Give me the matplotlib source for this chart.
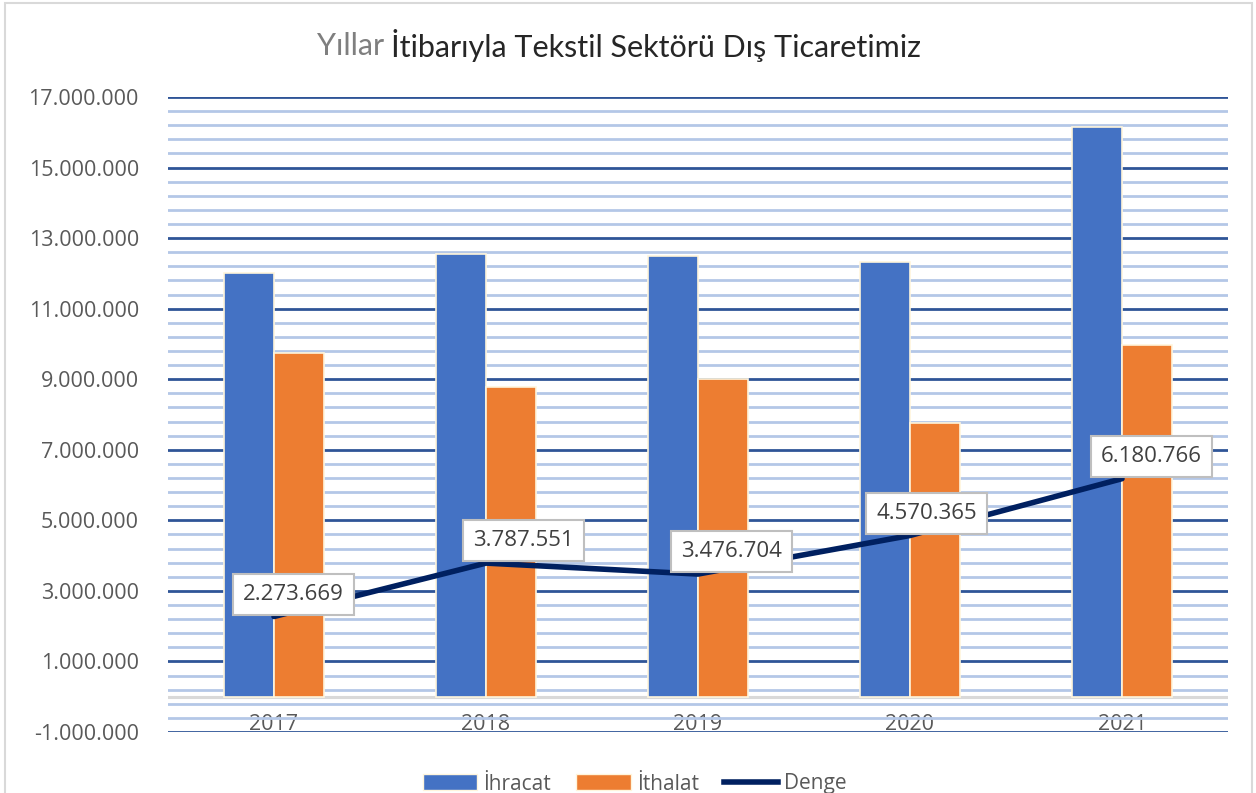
import matplotlib
matplotlib.use("Agg")
import matplotlib.pyplot as plt
import numpy as np
from matplotlib.patches import Rectangle, Patch
from matplotlib.lines import Line2D

# veriler
years = ["2017", "2018", "2019", "2020", "2021"]
ihracat = [12020000, 12560000, 12500000, 12330000, 16150000]
ithalat = [9750000, 8770000, 9020000, 7760000, 9970000]
denge = [2273669, 3787551, 3476704, 4570365, 6180766]
denge_labels = ["2.273.669", "3.787.551", "3.476.704", "4.570.365", "6.180.766"]
y_major = list(range(-1000000, 17000001, 2000000))
y_major_labels = ["-1.000.000", "1.000.000", "3.000.000", "5.000.000", "7.000.000",
                  "9.000.000", "11.000.000", "13.000.000", "15.000.000", "17.000.000"]

# etiket kaydırma (punto)
label_dx = [14, 27, 24, 12, 21]

plt.rcParams['font.family'] = ['Open Sans', 'DejaVu Sans']

fig = plt.figure(figsize=(12.56, 7.93), dpi=100)
ax = fig.add_axes([168 / 1256, 1 - 732 / 793, 1060 / 1256, 635 / 793])

x = np.arange(len(years))
w = 0.236

ax.set_ylim(-1000000, 17000000)
ax.set_xlim(-0.5, len(years) - 0.5)
ax.set_yticks(y_major)
ax.set_yticklabels(y_major_labels)
ax.set_yticks([-1000000 + 400000 * k for k in range(46)], minor=True)
ax.grid(which='minor', axis='y', color='#B4C7E7', lw=2.0, zorder=0)
ax.grid(which='major', axis='y', color='#2F5597', lw=2.0, zorder=0)
ax.axhline(0, color='#D9D9D9', lw=2.2, zorder=1)

ax.bar(x - w / 2, ihracat, w, color='#4472C4', edgecolor='#FFF5DC', lw=1.2, zorder=2)
ax.bar(x + w / 2, ithalat, w, color='#ED7D31', edgecolor='#FFF5DC', lw=1.2, zorder=2)
ax.plot(x, denge, color='#002060', lw=4, solid_capstyle='round', zorder=3)

for i, (v, s) in enumerate(zip(denge, denge_labels)):
    ax.annotate(s, (x[i], v), xytext=(label_dx[i], 16), textcoords='offset points',
                ha='center', va='center', fontsize=16, color='#404040', zorder=5,
                bbox=dict(boxstyle='square,pad=0.45', fc='white', ec='#BFBFBF', lw=1.5))

ax.set_xticks(x)
ax.set_xticklabels(years)
ax.tick_params(axis='x', length=0, pad=-13, labelsize=15.5, labelcolor='#595959')
ax.tick_params(axis='y', which='both', length=0, pad=21, labelsize=15.5, labelcolor='#595959')
for sp in ax.spines.values():
    sp.set_visible(False)

# başlık (iki renk)
t1 = fig.text(0, 1 - 46 / 793, "Yıllar ", fontsize=22, family=['Lato', 'DejaVu Sans'],
              color='#7F7F7F', ha='left', va='center')
t2 = fig.text(0, 1 - 46 / 793, "İtibarıyla Tekstil Sektörü Dış Ticaretimiz", fontsize=22,
              family=['Lato', 'DejaVu Sans'], color='#262626', ha='left', va='center')
fig.canvas.draw()
r = fig.canvas.get_renderer()
w1 = t1.get_window_extent(r).width
w2 = t2.get_window_extent(r).width
x0 = 619 - (w1 + w2) / 2
t1.set_x(x0 / 1256)
t2.set_x((x0 + w1) / 1256)

handles = [Patch(fc='#4472C4', ec='#FFF5DC'), Patch(fc='#ED7D31', ec='#FFF5DC'),
           Line2D([], [], color='#002060', lw=4)]
fig.legend(handles, ["İhracat", "İthalat", "Denge"], loc='center', bbox_to_anchor=(635 / 1256, 1 - 784 / 793),
           ncol=3, frameon=False, fontsize=15, labelcolor='#595959', handlelength=2.6,
           handleheight=0.8, columnspacing=1.2, handletextpad=0.3)

fig.patches.append(Rectangle((5 / 1256, -0.1), 1247 / 1256, 1.1 - 3 / 793, transform=fig.transFigure,
                             fill=False, ec='#D9D9D9', lw=1.5))

fig.savefig("out.png", dpi=100)
